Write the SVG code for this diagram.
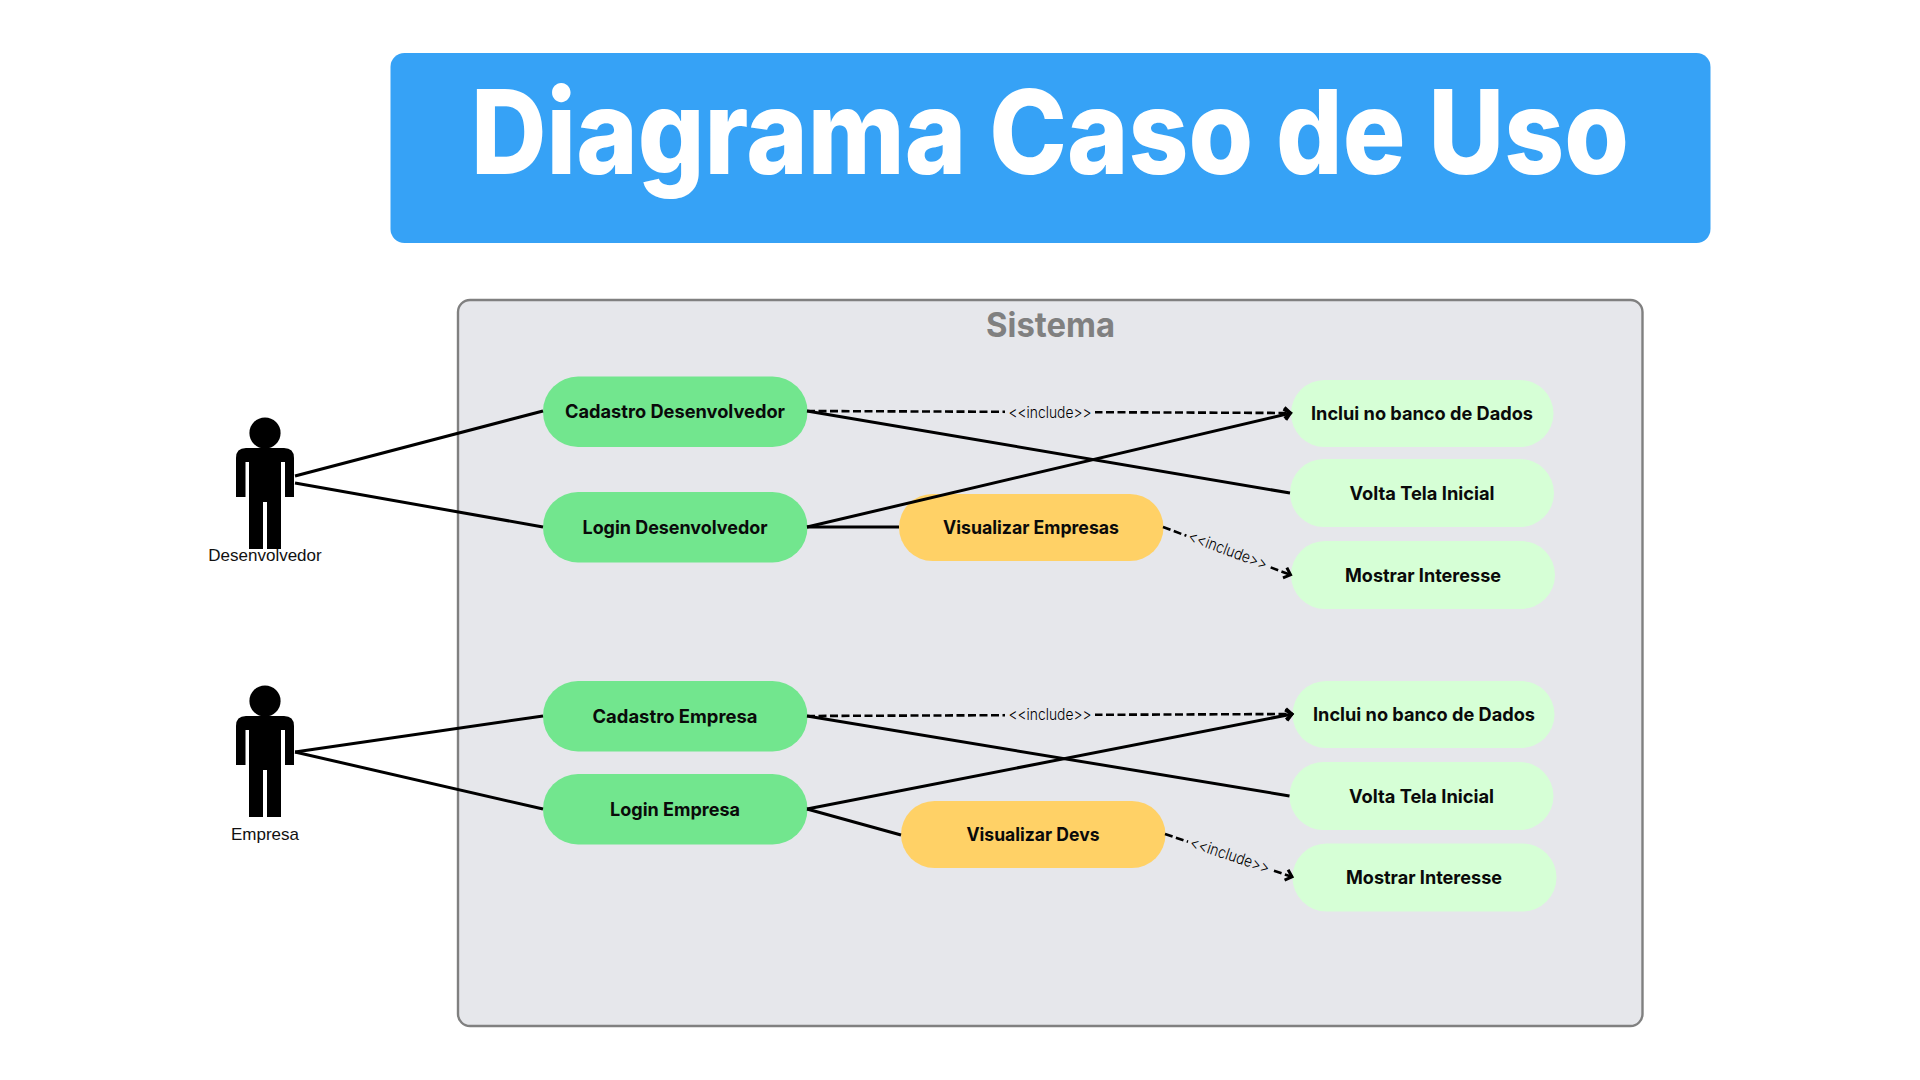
<svg xmlns="http://www.w3.org/2000/svg" width="1920" height="1080" viewBox="0 0 1920 1080">
<style>
text{font-family:"Inter","Liberation Sans",sans-serif;text-anchor:middle}
.t{font-size:18.5px;font-weight:700;fill:#0a0a0a}
.g{fill:#72E68E}.l{fill:#D6FFD6}.y{fill:#FFD166}
.a{font-family:"Liberation Sans",sans-serif;font-size:17px;fill:#111}
.i{font-size:16px;font-weight:300;fill:#000}
.c{stroke:#000;stroke-width:3;fill:none}
.d{stroke:#000;stroke-width:2.6;fill:none;stroke-dasharray:8 3.5}
.bg{fill:#E6E7EB}
</style>
<defs>
<marker id="arr" markerUnits="userSpaceOnUse" markerWidth="16" markerHeight="16" refX="10.5" refY="8" orient="auto"><path d="M4 2.5L10 8L4 13.5" fill="none" stroke="#000" stroke-width="3"/></marker>
<g id="person"><ellipse cx="265" cy="433" rx="15.6" ry="15.5"/><path d="M246 448H284Q294 448 294 458V497H285V462H281V549H267V502H263V549H249V462H245.5V497H236V458Q236 448 246 448Z"/></g>
</defs>
<rect width="1920" height="1080" fill="#fff"/>
<g id="title"><rect x="390.5" y="53" width="1320" height="190" rx="14" fill="#36A2F6"/><text x="1050" y="174" font-size="117" font-weight="800" fill="#fff" textLength="1158" lengthAdjust="spacingAndGlyphs">Diagrama Caso de Uso</text></g>
<g id="sistema"><rect x="458" y="300" width="1184.5" height="726" rx="12" fill="#E6E7EB" stroke="#808080" stroke-width="2.4"/><text x="1050.5" y="337" font-size="34" font-weight="700" fill="#808080" textLength="129" lengthAdjust="spacingAndGlyphs">Sistema</text></g>
<g id="actor-desenvolvedor"><use href="#person"/><text class="a" x="265" y="561">Desenvolvedor</text></g>
<g id="actor-empresa"><use href="#person" y="268"/><text class="a" x="265" y="840">Empresa</text></g>
<g id="cadastro-desenvolvedor"><rect class="g" x="543" y="376.5" width="264.5" height="70.5" rx="35"/><text class="t" x="675" y="417.5" textLength="220" lengthAdjust="spacingAndGlyphs">Cadastro Desenvolvedor</text></g>
<g id="login-desenvolvedor"><rect class="g" x="543" y="492" width="264.5" height="70.5" rx="35"/><text class="t" x="675" y="533.5" textLength="185" lengthAdjust="spacingAndGlyphs">Login Desenvolvedor</text></g>
<g id="visualizar-empresas"><rect class="y" x="899" y="494" width="264.5" height="67" rx="33.5"/><text class="t" x="1031" y="533.5" textLength="176" lengthAdjust="spacingAndGlyphs">Visualizar Empresas</text></g>
<g id="inclui-1"><rect class="l" x="1291" y="380" width="262.5" height="67" rx="33.5"/><text class="t" x="1422" y="419.5" textLength="222" lengthAdjust="spacingAndGlyphs">Inclui no banco de Dados</text></g>
<g id="volta-1"><rect class="l" x="1290" y="459" width="264" height="68" rx="34"/><text class="t" x="1422" y="499.5" textLength="145" lengthAdjust="spacingAndGlyphs">Volta Tela Inicial</text></g>
<g id="mostrar-1"><rect class="l" x="1291" y="541" width="264" height="68" rx="34"/><text class="t" x="1423" y="581.5" textLength="156" lengthAdjust="spacingAndGlyphs">Mostrar Interesse</text></g>
<g id="cadastro-empresa"><rect class="g" x="543" y="681" width="264.5" height="70.5" rx="35"/><text class="t" x="675" y="722.5" textLength="165" lengthAdjust="spacingAndGlyphs">Cadastro Empresa</text></g>
<g id="login-empresa"><rect class="g" x="543" y="774" width="264.5" height="70.5" rx="35"/><text class="t" x="675" y="815.5" textLength="130" lengthAdjust="spacingAndGlyphs">Login Empresa</text></g>
<g id="visualizar-devs"><rect class="y" x="901" y="801" width="264.5" height="67" rx="33.5"/><text class="t" x="1033" y="840.5" textLength="133" lengthAdjust="spacingAndGlyphs">Visualizar Devs</text></g>
<g id="inclui-2"><rect class="l" x="1292.5" y="681" width="262" height="67" rx="33.5"/><text class="t" x="1424" y="720.5" textLength="222" lengthAdjust="spacingAndGlyphs">Inclui no banco de Dados</text></g>
<g id="volta-2"><rect class="l" x="1289.5" y="762" width="264" height="68" rx="34"/><text class="t" x="1421.5" y="802.5" textLength="145" lengthAdjust="spacingAndGlyphs">Volta Tela Inicial</text></g>
<g id="mostrar-2"><rect class="l" x="1292.5" y="843.5" width="264" height="68" rx="34"/><text class="t" x="1424" y="883.5" textLength="156" lengthAdjust="spacingAndGlyphs">Mostrar Interesse</text></g>
<g id="connectors">
<path class="c" d="M295 476L543 411"/>
<path class="c" d="M295 483L543 527"/>
<path class="c" d="M807 411L1290 493"/>
<path class="c" d="M807 527L899 527"/>
<path class="c" d="M807 527L1291 413" marker-end="url(#arr)"/>
<path class="d" d="M807 411L1291 413" marker-end="url(#arr)"/>
<path class="d" d="M1163 527L1291 575" marker-end="url(#arr)"/>
<path class="c" d="M295 752L543 716"/>
<path class="c" d="M295 752L543 809"/>
<path class="c" d="M807 716L1289.5 796"/>
<path class="c" d="M807 809L901 835"/>
<path class="c" d="M807 809L1292.5 714" marker-end="url(#arr)"/>
<path class="d" d="M807 716L1292.5 714" marker-end="url(#arr)"/>
<path class="d" d="M1165 834L1292.5 877" marker-end="url(#arr)"/>
<rect class="bg" x="1005" y="402" width="90" height="20"/>
<text class="i" x="1050" y="417.5" textLength="83" lengthAdjust="spacingAndGlyphs">&lt;&lt;include&gt;&gt;</text>
<rect class="bg" x="1005" y="704" width="90" height="20"/>
<text class="i" x="1050" y="719.5" textLength="83" lengthAdjust="spacingAndGlyphs">&lt;&lt;include&gt;&gt;</text>
<g transform="translate(1228 550) rotate(20.5)"><rect class="bg" x="-44" y="-10" width="88" height="20"/><text class="i" y="5.5" textLength="83" lengthAdjust="spacingAndGlyphs">&lt;&lt;include&gt;&gt;</text></g>
<g transform="translate(1230 855) rotate(18.5)"><rect class="bg" x="-44" y="-10" width="88" height="20"/><text class="i" y="5.5" textLength="83" lengthAdjust="spacingAndGlyphs">&lt;&lt;include&gt;&gt;</text></g>
</g>
</svg>
